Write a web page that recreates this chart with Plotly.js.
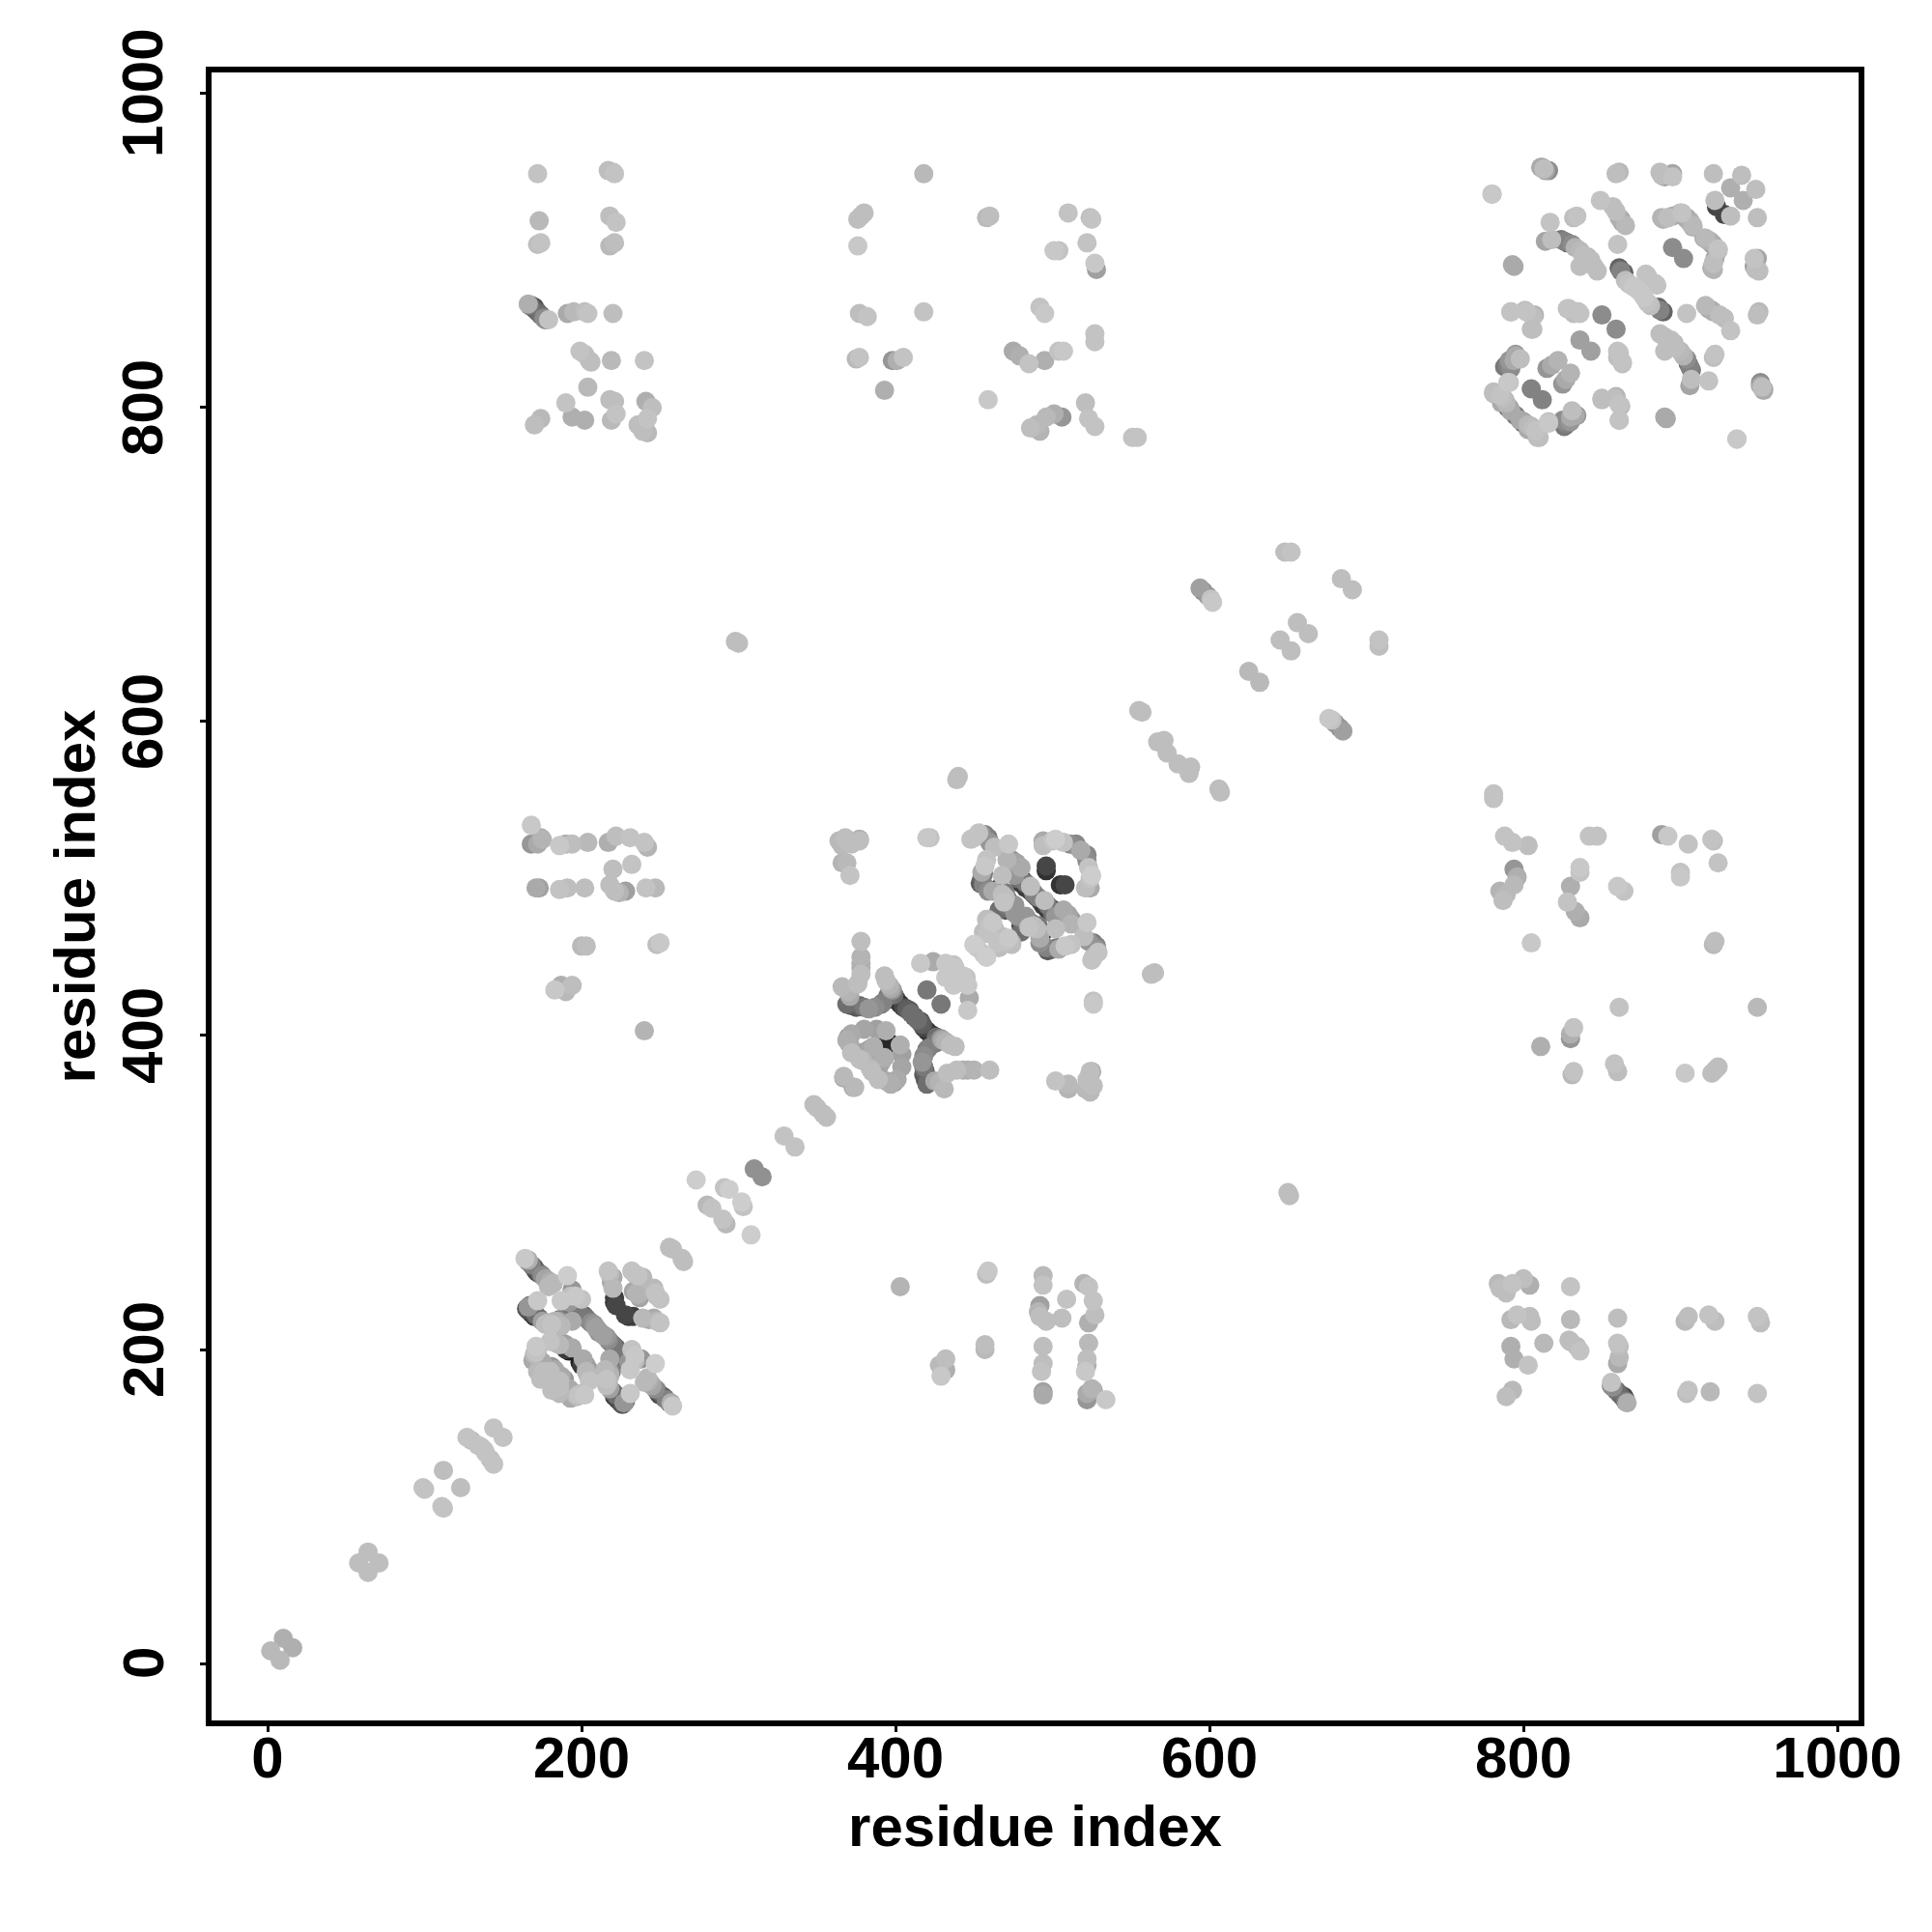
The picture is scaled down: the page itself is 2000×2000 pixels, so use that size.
<!DOCTYPE html>
<html>
<head>
<meta charset="utf-8">
<script src="https://cdn.plot.ly/plotly-3.0.1.min.js"></script>
<style>html,body{margin:0;padding:0;background:#fff}</style>
</head>
<body>
<div id="chart" style="width:2000px;height:2000px"></div>
<script>
// Each contact: [residue i, residue j, grey level]. The map is symmetric: both (i,j) and (j,i) are drawn.
const tickValues = [0, 200, 400, 600, 800, 1000];
const tickLabels = ['0', '200', '400', '600', '800', '1000'];
const axisLabel = 'residue index';

const nearDiagonal = [
  [10,16,175],[2,8,185],[64,71,190],[58,64,190],[112,123,190],[99,112,195],[100,111,195],
  [127,144,195],[130,142,190],[134,139,195],[136,138,195],[144,150,195],
  [256,265,190],[258,264,190],[273,308,205],[291,303,195],[294,302,205],[280,292,185],[283,290,195],
  [310,315,145],[329,336,195],[348,356,190],[350,354,190],
  [557,606,190],[555,607,190],[567,587,190],[571,588,190],[573,580,190],
  [594,685,160],[596,683,140],[599,680,150],[601,678,195],[602,676,200],
  [648,708,190],[652,708,195],[684,691,190],[656,663,190],[645,652,190],[625,632,185],
  [298,651,190],[300,650,190],[440,565,190],[439,563,190]
];
const domainOne = [
  [164,258,200],[166,257,175],[168,254,130],[170,252,90],[172,249,70],[174,248,110],[177,245,165],[180,243,175],
  [179,240,185],[191,247,205],[194,238,150],[196,234,200],[200,232,195],[192,230,150],[199,223,70],[202,221,100],
  [205,218,110],[208,216,150],[211,211,150],
  [165,226,85],[168,223,70],[172,231,200],[167,228,120],[173,220,100],[177,216,190],[181,216,195],[185,218,170],
  [188,219,100],[192,219,110],[187,215,185],[187,231,200],
  [221,230,55],[217,250,195],[220,246,170],[220,239,185],[232,250,195],[239,246,185],[233,237,165],
  [192,199,30],[173,190,120],[188,204,150],[169,193,170],[184,204,175],[194,201,170],[181,189,150],
  [171,202,200],[171,198,195],[180,205,195],[174,181,190],[176,186,190]
];
const domainOneExtra = [
  [166,256,120],[169,253,80],[171,250,60],[175,247,140],[178,244,160],[182,242,185],[197,226,60],[198,225,120],
  [201,222,90],[203,220,120],[206,217,140],[209,214,160],[210,213,140],[196,228,120],[193,234,190],
  [166,225,70],[170,221,60],[171,222,110],[175,218,160],[179,217,185],[183,218,180],[186,219,130],[190,219,80],
  [194,218,170],[166,227,150],[172,200,190],[173,194,150],[175,192,170],[177,188,170],[180,186,190],[183,187,170],
  [186,203,185],[190,203,160],[190,200,60],[170,197,185],[172,186,185],
  [218,248,185],[219,243,170],[222,228,70],[221,233,60],[234,248,190],[236,247,195],[236,235,180]
];
const domainTwo = [
  [378,460,190],[378,446,175],[366,431,185],[376,433,190],[393,438,190],[396,432,180],[398,429,150],[401,422,40],
  [407,417,90],[391,420,120],[383,417,150],[372,419,80],[377,419,100],[372,401,170],[380,404,165],[394,403,175],
  [394,398,20],[383,391,165],[369,397,175],[372,389,190],[377,385,190],[384,379,185],[393,386,175],[416,408,95],
  [416,446,200],[424,447,170],[432,446,200],[438,443,200],[420,429,120],[432,437,200],[437,434,200],[445,437,195],
  [367,373,170],[374,367,185],[420,526,200]
];
const domainTwoExtra = [
  [375,418,90],[380,418,120],[387,418,140],[392,421,130],[395,425,120],[400,424,45],[403,420,50],[405,418,70],
  [409,416,80],[412,412,90],[414,410,110],[399,426,110],[397,430,170],[394,435,190],[369,420,110],[370,428,180],
  [371,425,170],[378,439,190],[378,443,175],[378,450,180],[370,399,150],[371,394,170],
  [388,404,160],[391,399,40],[379,389,150],[381,385,170],[388,382,165]
];
const domainThree = [
  [448,525,195],[453,529,195],[457,528,130],[460,523,150],[463,520,190],[472,522,200],[458,512,195],[474,512,150],
  [480,507,170],[455,504,170],[454,497,90],[459,492,140],[466,494,40],[481,499,40],[486,495,190],[476,502,150],
  [468,502,190],[457,508,200],[458,474,190],[462,472,200],[456,466,190],[450,458,200],[458,450,205],[469,483,80],
  [476,483,150],[482,474,130],[474,459,180],[465,459,195],[480,470,50],[485,469,195],[491,470,120],
  [494,524,170],[494,521,190],[502,525,205],[507,523,195],[515,521,125],[522,515,135],[496,505,50]
];
const domainThreeExtra = [
  [450,526,190],[455,528,150],[459,526,120],[456,503,120],[455,500,100],[456,496,130],[462,492,170],[468,490,190],
  [472,486,110],[472,483,90],[477,506,150],[478,500,110],[480,497,60],[483,497,120],[488,491,130],[490,488,100],
  [492,486,60],[494,483,60],[471,512,180],[477,510,165],[460,470,195],[463,468,190],[478,476,150],[480,473,110],
  [483,471,120],[488,470,190],[470,459,190],[452,456,200],[496,508,70],[500,524,195],[511,522,140],[518,518,170],[466,480,110]
];
const blockLowUpperA = [
  [172,949,195],[217,951,190],[220,950,190],[221,949,195],[173,919,185],[174,905,195],[172,904,190],
  [218,922,190],[222,918,195],[221,905,190],[218,903,185],
  [166,866,175],[167,865,120],[168,865,90],[170,864,60],[170,863,80],[172,861,100],[174,859,110],[176,857,140],[177,856,130],[179,856,195],
  [191,860,170],[195,861,185],[202,861,190],[204,860,195],[220,860,190],
  [199,836,195],[202,834,190],[205,830,185],[206,829,190],[219,830,185],[240,830,195],
  [204,813,185],[190,803,195],[194,794,175],[202,792,175],[170,789,190],[174,793,185],
  [218,805,190],[221,804,190],[222,796,195],[219,792,185],
  [241,804,175],[245,800,190],[242,793,195],[236,789,190],[242,784,185],[239,785,190]
];
const blockLowUpperB = [
  [418,949,185],[378,922,190],[376,920,190],[380,924,190],[376,903,200],[458,921,185],[460,922,190],
  [510,924,195],[524,921,190],[525,920,195],[504,900,195],[501,900,200],[522,905,195],[527,892,200],[528,888,160],
  [377,860,190],[382,858,195],[418,861,195],[492,864,195],[495,860,200],[527,847,195],[527,842,195],
  [377,832,195],[375,831,185],[405,832,195],[401,830,175],[398,830,150],[393,811,175],[459,805,200],
  [475,836,170],[479,833,175],[485,828,195],[495,830,175],[504,836,195],[507,836,200],
  [521,803,190],[523,793,195],[527,788,195],[551,781,195],[554,781,195],
  [486,787,190],[492,785,180],[490,789,185],[496,794,185],[501,796,175],[506,794,150]
];
const blockLowMiddle = [
  [168,534,200],[174,526,170],[168,522,150],[172,522,170],[175,525,180],[186,521,200],[194,522,190],[190,522,175],
  [204,523,185],[217,523,175],[222,527,190],[231,526,195],[240,523,195],[242,520,180],[232,509,195],[220,506,190],
  [173,494,160],[171,494,170],[186,493,195],[191,494,190],[202,494,190],[218,496,190],[221,492,190],[224,491,180],
  [228,492,160],[241,494,195],[247,494,185],[203,457,190],[200,457,185],[248,458,190],[250,459,200],
  [183,429,200],[187,432,175],[190,428,185],[194,432,190],[240,403,180]
];
const blockMiddleLinks = [
  [366,521,185],[377,524,190],[369,510,185],[372,522,190],[422,526,195],
  [371,502,195],[366,510,180],[377,525,175],[370,523,190],[368,526,190],[364,524,185]
];
const domainFour = [
  [780,936,200],[811,953,170],[816,951,140],[813,952,190],[861,950,185],[859,949,190],[890,947,160],[895,947,195],[888,948,190],
  [817,918,195],[832,921,190],[834,922,195],[814,906,165],[818,907,190],[826,906,130],[831,904,140],[836,900,185],
  [843,894,190],[847,887,190],[836,890,190],[849,932,195],[857,928,190],[861,921,175],[865,916,185],[860,904,195],
  [889,920,175],[892,921,190],[900,924,180],[904,920,170],[908,916,185],[915,908,175],[919,906,170],[924,901,195],
  [921,888,180],[921,892,190],[895,902,140],[949,895,165],[950,887,190],[794,890,170],
  [792,861,195],[801,862,190],[807,859,180],[806,850,190],[828,863,190],[835,861,195],[850,859,140],
  [836,843,160],[861,834,190],[863,829,195],[795,833,170],[791,828,130],[798,831,190],[788,826,120],[818,827,170],
  [850,805,190],[858,806,190],[861,802,195],[861,792,195],[790,816,200],[781,809,190],[786,803,170],[792,798,90],
  [800,791,150],[816,791,195],[808,785,195],[810,781,190],[805,812,130],[834,795,150],[827,790,130],[830,794,170],
  [891,793,170],[936,780,195],[951,814,165],[953,812,170],
  [861,889,100],[865,881,190],[870,877,200],[879,884,195],[885,878,195],
  [921,949,190],[939,948,190],[932,940,175],[922,932,190],[923,928,70]
];
const domainFourExtra = [
  [824,907,120],[828,905,100],[833,902,180],[838,897,190],[841,896,185],[845,890,190],[863,918,165],[859,925,190],
  [862,920,150],[895,922,170],[902,922,170],[906,918,175],[917,907,150],[921,904,170],[796,832,150],[793,830,140],
  [789,827,100],[785,808,190],[788,805,170],[790,800,90],[795,795,130],[798,792,170],[803,789,185],[806,787,190],
  [864,886,100],[862,887,130],[867,879,195],[873,875,200],[830,791,150],[825,792,140],[815,825,150],[822,830,180],
  [860,832,190],[860,836,195]
];

const contacts = [].concat(nearDiagonal, domainOne, domainOneExtra, domainTwo, domainTwoExtra,
  domainThree, domainThreeExtra, domainFour, domainFourExtra,
  blockLowUpperA, blockLowUpperB, blockLowMiddle, blockMiddleLinks)
  .sort((p, q) => p[2] - q[2]);   // darker contacts lie underneath lighter ones

const xs = [], ys = [], colors = [];
contacts.forEach(([i, j, g]) => {
  const c = `rgb(${g},${g},${g})`;
  xs.push(i, j); ys.push(j, i); colors.push(c, c);
});

const textFont = {family: '"Liberation Sans", Arial, sans-serif', size: 60, color: '#000', weight: 700};

const axisBase = {
  tickmode: 'array', tickvals: tickValues, ticks: 'outside', ticklen: 6, tickwidth: 3, tickcolor: '#000',
  showline: true, linecolor: '#000', linewidth: 6, mirror: true,
  showgrid: false, zeroline: false, tickfont: textFont, automargin: false
};

const yTickAnnotations = tickValues.map((v, k) => ({
  xref: 'paper', yref: 'y', x: 0, y: v, text: tickLabels[k], showarrow: false,
  textangle: -90, font: textFont, xanchor: 'center', yanchor: 'middle', xshift: -71, borderpad: 0
}));

Plotly.newPlot('chart', [{
  type: 'scatter', mode: 'markers', x: xs, y: ys,
  marker: {size: 20, color: colors, line: {width: 0}},
  hoverinfo: 'x+y', showlegend: false
}], {
  width: 2000, height: 2000,
  paper_bgcolor: '#fff', plot_bgcolor: '#fff', showlegend: false,
  margin: {l: 219, r: 76, t: 75, b: 219, pad: 0},
  annotations: yTickAnnotations,
  xaxis: Object.assign({}, axisBase, {
    range: [-35.7, 1013.5], ticktext: tickLabels, ticklabelstandoff: -25,
    title: {text: axisLabel, font: textFont, standoff: 19}
  }),
  yaxis: Object.assign({}, axisBase, {
    range: [-36.3, 1013.5], showticklabels: false,
    title: {text: axisLabel, font: textFont, standoff: 91}
  })
}, {displayModeBar: false, staticPlot: true});
</script>
</body>
</html>
